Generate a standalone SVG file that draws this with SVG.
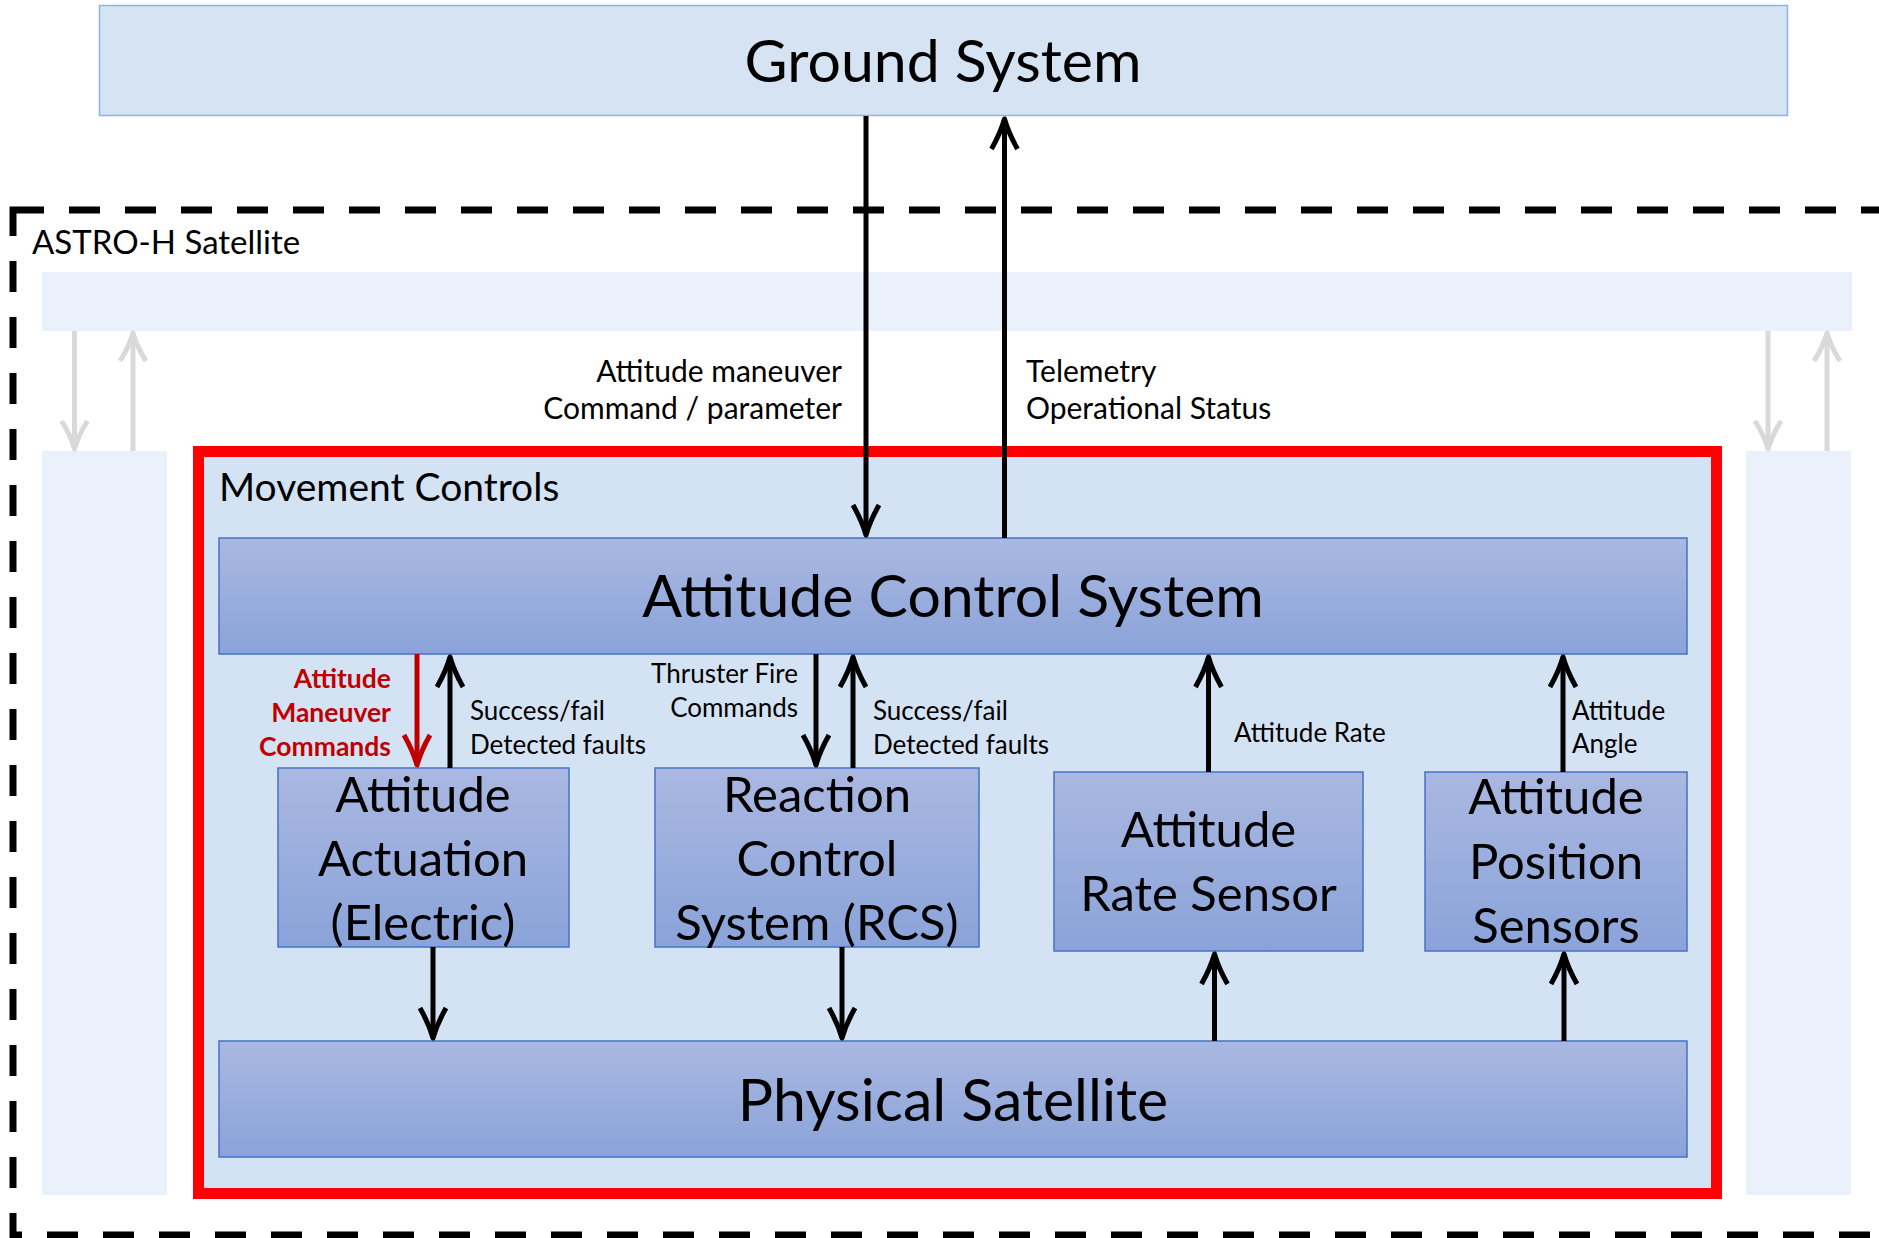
<svg xmlns="http://www.w3.org/2000/svg" width="1879" height="1238" viewBox="0 0 1879 1238">
  <style>
    text { font-family: Lato, "Liberation Sans", sans-serif; fill: #000; }
    .big { font-size: 59px; text-anchor: middle; }
    .node { font-size: 49px; text-anchor: middle; }
    .frame-label { font-size: 33px; }
    .group-label { font-size: 39px; }
    .ext-label { font-size: 30px; }
    .lbl { font-size: 26px; }
    .cmd { font-size: 26.5px; font-weight: bold; fill: #C00000; text-anchor: end; }
    .end { text-anchor: end; }
    .box { fill: url(#boxGrad); stroke: #4472C4; stroke-width: 1.5; }
    .pale { fill: #EAF1FA; }
    .wire { fill: none; stroke: #000; stroke-width: 5; }
    .wire-red { fill: none; stroke: #C00000; stroke-width: 5; }
    .wire-grey { fill: none; stroke: #D9D9D9; stroke-width: 5; }
  </style>
  <defs>
    <linearGradient id="boxGrad" x1="0" y1="0" x2="0" y2="1">
      <stop offset="0" stop-color="#AAB8E1"/>
      <stop offset="1" stop-color="#8AA3D9"/>
    </linearGradient>
    <marker id="headBlack" markerUnits="userSpaceOnUse" viewBox="-34 -18 40 36" refX="0" refY="0" markerWidth="40" markerHeight="36" orient="auto" overflow="visible">
      <path d="M-30,-13 Q-14,-4 0,0 Q-14,4 -30,13" fill="none" stroke="#000" stroke-width="5" stroke-linejoin="round"/>
    </marker>
    <marker id="headRed" markerUnits="userSpaceOnUse" viewBox="-34 -18 40 36" refX="0" refY="0" markerWidth="40" markerHeight="36" orient="auto" overflow="visible">
      <path d="M-30,-13 Q-14,-4 0,0 Q-14,4 -30,13" fill="none" stroke="#C00000" stroke-width="5" stroke-linejoin="round"/>
    </marker>
    <marker id="headGrey" markerUnits="userSpaceOnUse" viewBox="-34 -18 40 36" refX="0" refY="0" markerWidth="40" markerHeight="36" orient="auto" overflow="visible">
      <path d="M-28,-13 Q-14,-4 0,0 Q-14,4 -28,13" fill="none" stroke="#D9D9D9" stroke-width="5" stroke-linejoin="round"/>
    </marker>
  </defs>

  <rect width="1879" height="1238" fill="#fff"/>

  <!-- ground segment -->
  <g id="ground-system">
    <rect x="99.5" y="5.5" width="1688" height="110" fill="#D5E3F3" stroke="#8EB4E3" stroke-width="1.5"/>
    <text class="big" x="943" y="82">Ground System</text>
  </g>

  <!-- spacecraft boundary with its pale bus strips -->
  <g id="astro-h-satellite">
    <rect class="pale" x="42" y="272" width="1810" height="59"/>
    <rect class="pale" x="42" y="451" width="125" height="744"/>
    <rect class="pale" x="1746" y="451" width="105" height="744"/>
    <rect x="13" y="210" width="1900" height="1025" fill="none" stroke="#000" stroke-width="7" stroke-dasharray="31 25"/>
    <text class="frame-label" x="32" y="254">ASTRO-H Satellite</text>
  </g>

  <!-- subsystem boundary -->
  <g id="movement-controls">
    <rect x="198.5" y="451.5" width="1518" height="742" fill="#D4E3F4" stroke="#FF0000" stroke-width="11"/>
    <text class="group-label" x="219" y="501">Movement Controls</text>
  </g>

  <g id="attitude-control-system">
    <rect class="box" x="219" y="538" width="1468" height="116"/>
    <text class="big" x="953" y="617">Attitude Control System</text>
  </g>

  <g id="attitude-actuation">
    <rect class="box" x="278" y="768" width="291" height="179"/>
    <text class="node" x="423" y="812">Attitude</text>
    <text class="node" x="423" y="876">Actuation</text>
    <text class="node" x="423" y="940">(Electric)</text>
  </g>

  <g id="reaction-control-system">
    <rect class="box" x="655" y="768" width="324" height="179"/>
    <text class="node" x="817" y="812">Reaction</text>
    <text class="node" x="817" y="876">Control</text>
    <text class="node" x="817" y="940">System (RCS)</text>
  </g>

  <g id="attitude-rate-sensor">
    <rect class="box" x="1054" y="772" width="309" height="179"/>
    <text class="node" x="1208.5" y="847">Attitude</text>
    <text class="node" x="1208.5" y="911">Rate Sensor</text>
  </g>

  <g id="attitude-position-sensors">
    <rect class="box" x="1425" y="772" width="262" height="179"/>
    <text class="node" x="1556" y="814">Attitude</text>
    <text class="node" x="1556" y="879">Position</text>
    <text class="node" x="1556" y="943">Sensors</text>
  </g>

  <g id="physical-satellite">
    <rect class="box" x="219" y="1041" width="1468" height="116"/>
    <text class="big" x="953" y="1121">Physical Satellite</text>
  </g>

  <!-- links between blocks -->
  <g id="connectors">
    <!-- bus strip to side columns -->
    <line class="wire-grey" x1="74.5" y1="331" x2="74.5" y2="449" marker-end="url(#headGrey)"/>
    <line class="wire-grey" x1="133" y1="451" x2="133" y2="333" marker-end="url(#headGrey)"/>
    <line class="wire-grey" x1="1768" y1="331" x2="1768" y2="449" marker-end="url(#headGrey)"/>
    <line class="wire-grey" x1="1827" y1="451" x2="1827" y2="333" marker-end="url(#headGrey)"/>

    <!-- ground link -->
    <line class="wire" x1="866" y1="116" x2="866" y2="535" marker-end="url(#headBlack)"/>
    <line class="wire" x1="1004.5" y1="538" x2="1004.5" y2="119" marker-end="url(#headBlack)"/>
    <text class="ext-label end" x="842" y="382">Attitude maneuver</text>
    <text class="ext-label end" x="842" y="419">Command / parameter</text>
    <text class="ext-label" x="1026" y="382">Telemetry</text>
    <text class="ext-label" x="1026" y="419">Operational Status</text>

    <!-- ACS and actuation -->
    <line class="wire-red" x1="417" y1="654" x2="417" y2="765" marker-end="url(#headRed)"/>
    <text class="cmd" x="391" y="688">Attitude</text>
    <text class="cmd" x="391" y="722">Maneuver</text>
    <text class="cmd" x="391" y="756">Commands</text>
    <line class="wire" x1="450" y1="768" x2="450" y2="657" marker-end="url(#headBlack)"/>
    <text class="lbl" x="470" y="720">Success/fail</text>
    <text class="lbl" x="470" y="754">Detected faults</text>

    <!-- ACS and RCS -->
    <line class="wire" x1="816" y1="654" x2="816" y2="765" marker-end="url(#headBlack)"/>
    <text class="lbl end" x="798" y="683">Thruster Fire</text>
    <text class="lbl end" x="798" y="717">Commands</text>
    <line class="wire" x1="853" y1="768" x2="853" y2="657" marker-end="url(#headBlack)"/>
    <text class="lbl" x="873" y="720">Success/fail</text>
    <text class="lbl" x="873" y="754">Detected faults</text>

    <!-- sensors to ACS -->
    <line class="wire" x1="1208.5" y1="772" x2="1208.5" y2="657" marker-end="url(#headBlack)"/>
    <text class="lbl" x="1234" y="742">Attitude Rate</text>
    <line class="wire" x1="1563" y1="772" x2="1563" y2="657" marker-end="url(#headBlack)"/>
    <text class="lbl" x="1572" y="720">Attitude</text>
    <text class="lbl" x="1572" y="753">Angle</text>

    <!-- actuators to plant, plant to sensors -->
    <line class="wire" x1="433" y1="947" x2="433" y2="1038" marker-end="url(#headBlack)"/>
    <line class="wire" x1="842" y1="947" x2="842" y2="1038" marker-end="url(#headBlack)"/>
    <line class="wire" x1="1214.5" y1="1041" x2="1214.5" y2="954" marker-end="url(#headBlack)"/>
    <line class="wire" x1="1564" y1="1041" x2="1564" y2="954" marker-end="url(#headBlack)"/>
  </g>
</svg>
